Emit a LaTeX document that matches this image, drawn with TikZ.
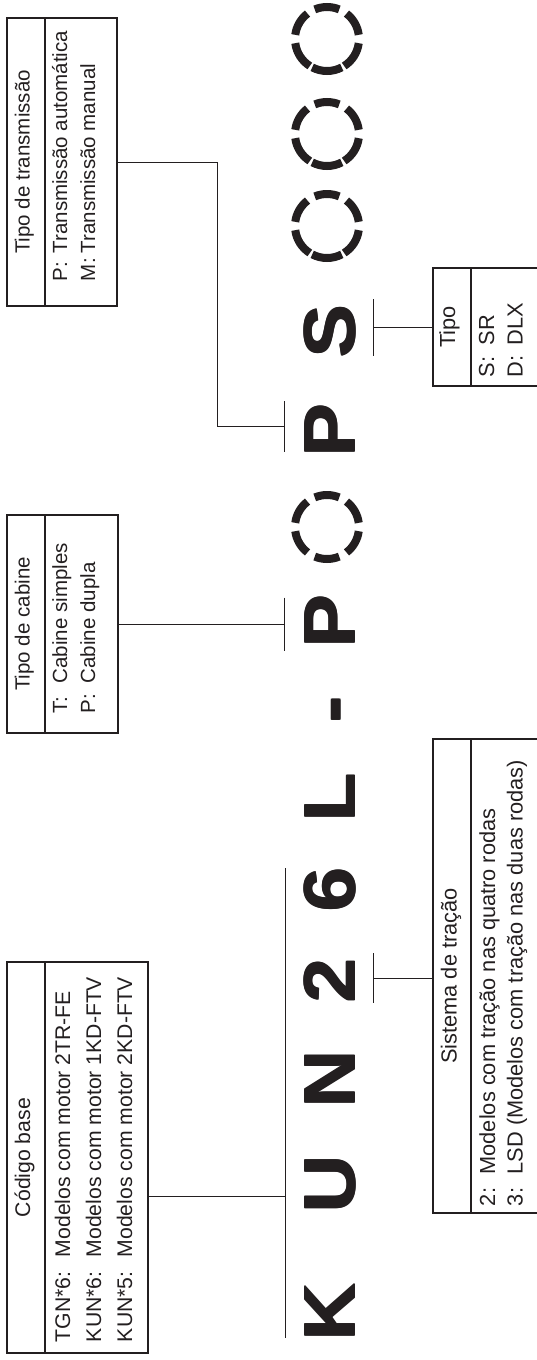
\documentclass[tikz,border=0pt]{standalone}
\usepackage{fontspec}
\setmainfont{Liberation Sans}
\definecolor{inkc}{HTML}{231F20}
\newcommand\heavyglyph[1]{\scalebox{1.1}[1]{\rlap{\hspace{1.1pt}#1}\rlap{\raisebox{-1.1pt}{#1}}\rlap{\hspace{1.1pt}\raisebox{-1.1pt}{#1}}#1}}
\begin{document}
\begin{tikzpicture}[x=1pt,y=-1pt,
  frame/.style={draw=inkc,line width=1.1pt,inner sep=0pt,outer sep=0pt},
  link/.style={draw=inkc,line width=1pt},
  txt/.style={text=inkc,font=\fontsize{20.5}{24}\selectfont,rotate=90,inner sep=0pt,outer sep=0pt},
  txtb/.style={txt,font=\fontsize{21.2}{25}\selectfont},
  txtc/.style={txt,font=\fontsize{21.8}{26}\selectfont},
  big/.style={text=inkc,font=\fontsize{72.6}{80}\selectfont\bfseries,rotate=90,inner sep=0pt,outer sep=0pt,anchor=base},
  ring/.style={draw=inkc,line width=8pt}]
\useasboundingbox (0,0) rectangle (537,1360);
\clip (0,0) rectangle (537,1360);

% boxes
\node[frame,minimum width=110pt,minimum height=288pt] (trans) at (62,162) {};
\node[frame,minimum width=111pt,minimum height=218pt] (cab) at (62.5,624) {};
\node[frame,minimum width=141pt,minimum height=391pt] (base) at (77.5,1157.5) {};
\node[frame,minimum width=127pt,minimum height=474pt] (trac) at (496.5,976) {};
\node[frame,minimum width=127pt,minimum height=118pt] (tipo) at (496.5,327) {};
\foreach \b in {trans,cab,base,trac,tipo}
  \draw[frame] ([xshift=38pt]\b.north west) -- ([xshift=38pt]\b.south west);

% box texts
\node[txt,anchor=mid] (transT) at (27,162) {Tipo de transmissão};
\node[txt,anchor=mid west] (transA) at (64.5,281) {\makebox[1.35em][l]{P:}Transmissão automática};
\node[txt,anchor=mid west] (transB) at (92.5,281) {\makebox[1.35em][l]{M:}Transmissão manual};

\node[txt,anchor=mid] (cabT) at (27,624) {Tipo de cabine};
\node[txt,anchor=mid west] (cabA) at (64.5,713) {\makebox[1.45em][l]{T:}Cabine simples};
\node[txt,anchor=mid west] (cabB) at (92.5,713) {\makebox[1.45em][l]{P:}Cabine dupla};

\node[txtb,anchor=mid] (baseT) at (27.5,1157.5) {Código base};
\node[txtb,anchor=mid west] (baseA) at (67.5,1342) {\makebox[4.0em][l]{TGN*6:}Modelos com motor 2TR-FE};
\node[txtb,anchor=mid west] (baseB) at (98.5,1342) {\makebox[4.0em][l]{KUN*6:}Modelos com motor 1KD-FTV};
\node[txtb,anchor=mid west] (baseC) at (129.5,1342) {\makebox[4.0em][l]{KUN*5:}Modelos com motor 2KD-FTV};

\node[txtc,anchor=mid] (tracT) at (454,976) {Sistema de tração};
\node[txtc,anchor=mid west] (tracA) at (492.5,1206) {\makebox[1.45em][l]{2:}Modelos com tração nas quatro rodas};
\node[txtc,anchor=mid west] (tracB) at (520,1206) {\makebox[1.45em][l]{3:}LSD (Modelos com tração nas duas rodas)};

\node[txtc,anchor=mid] (tipoT) at (452.5,327) {Tipo};
\node[txtc,anchor=mid west] (tipoA) at (491.5,377) {\makebox[1.45em][l]{S:}SR};
\node[txtc,anchor=mid west] (tipoB) at (520,377) {\makebox[1.45em][l]{D:}DLX};

% big code letters
\node[big] (lK) at (354,1313) {\heavyglyph{K}};
\node[big] (lU) at (354,1185) {\heavyglyph{U}};
\node[big] (lN) at (354,1080) {\heavyglyph{N}};
\node[big] (l2) at (354,981) {\heavyglyph{2}};
\node[big] (l6) at (354,890) {\heavyglyph{6}};
\node[big] (lL) at (354,798) {\heavyglyph{L}};
\node[big] (lD) at (354,710) {\heavyglyph{-}};
\node[big] (lP1) at (354,622) {\heavyglyph{P}};
\node[big] (lP2) at (354,431) {\heavyglyph{P}};
\node[big] (lS) at (354,332) {\heavyglyph{S}};

% dashed rings
\coordinate (r0) at (327,527);
\coordinate (r1) at (327,226);
\coordinate (r2) at (327,134);
\coordinate (r3) at (327,39);
\foreach \s/\e in {7.5/52.5,67.5/112.5,127.5/172.5,187.5/232.5,247.5/292.5,307.5/352.5}
  \draw[ring] (r0) ++(\s:32pt) arc[start angle=\s,end angle=\e,radius=32pt];
\foreach \r in {r1,r2,r3}
  \foreach \s/\e in {7.5/52.5,67.5/112.5,127.5/172.5,187.5/237.5,242.5/297.5,302.5/352.5}
    \draw[ring] (\r) ++(\s:32pt) arc[start angle=\s,end angle=\e,radius=32pt];

% ticks and connectors
\coordinate (tP2) at (284,426.5);
\coordinate (tP1) at (284,624);
\coordinate (t2) at (373,978);
\coordinate (tS) at (373,327.5);
\coordinate (ulTop) at (285,868);
\coordinate (ulBot) at (285,1338);
\coordinate (ulJoin) at (285,1196);
\draw[link] ([yshift=25.5pt]tP2) -- ([yshift=-25.5pt]tP2);
\draw[link] ([yshift=26.5pt]tP1) -- ([yshift=-26.5pt]tP1);
\draw[link] ([yshift=25pt]t2) -- ([yshift=-25pt]t2);
\draw[link] ([yshift=28.5pt]tS) -- ([yshift=-28.5pt]tS);
\draw[link] (ulTop) -- (ulBot);

\draw[link] (trans.east) -- ++(100,0) |- (tP2);
\draw[link] (cab.east) -- (tP1);
\draw[link] (ulJoin -| base.east) -- (ulJoin);
\draw[link] (t2) -- (t2 -| trac.west);
\draw[link] (tS) -- (tS -| tipo.west);
\end{tikzpicture}
\end{document}
